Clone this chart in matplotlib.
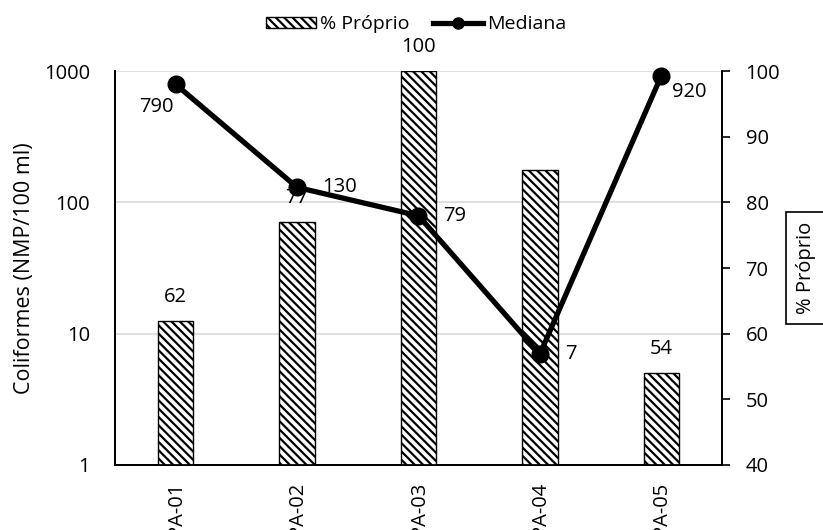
import matplotlib
matplotlib.use('Agg')
from matplotlib import pyplot as plt
from matplotlib.lines import Line2D
from matplotlib.patches import Patch

plt.rcParams['font.family'] = ['Open Sans', 'DejaVu Sans']
plt.rcParams['hatch.linewidth'] = 1.6
plt.rcParams['hatch.color'] = '#3a3a3a'

my_fontsize = 14.5
HATCH = '\\\\\\\\'

# sampling points
labels = ['PA-01', 'PA-02', 'PA-03', 'PA-04', 'PA-05']
# median coliforms (NMP/100 ml), log axis on the left
mediana = [790, 130, 79, 7, 920]
# share "Próprio" (%), bars on the right axis
proprio = [62, 77, 100, 85, 54]
# which bars carry a value label
proprio_shown = [True, True, True, False, True]

x = list(range(len(labels)))

fig = plt.figure(figsize=(8.23, 5.30), dpi=100)
ax = fig.add_axes([115 / 823, 1 - 465 / 530, (722 - 115) / 823, (465 - 71) / 530])
ax2 = ax.twinx()

# left axis: log scale for coliforms
ax.set_yscale('log')
ax.set_ylim(1, 1000)
ax.set_xlim(-0.5, len(labels) - 0.5)
ax.set_yticks([1, 10, 100, 1000])
ax.set_yticklabels(['1', '10', '100', '1000'])
ax.minorticks_off()
ax.grid(axis='y', color='#d9d9d9', linewidth=1.2)
ax.set_axisbelow(True)
ax.tick_params(axis='y', length=0, pad=18, labelsize=my_fontsize)
ax.set_xticks(x)
ax.set_xticklabels(labels, rotation=90, va='top', ha='center')
ax.tick_params(axis='x', length=0, pad=12, labelsize=my_fontsize)

# right axis: percentage bars
ax2.set_ylim(40, 100)
ax2.set_yticks(range(40, 101, 10))
ax2.tick_params(axis='y', direction='out', length=6, width=1.2, pad=11, labelsize=my_fontsize)
ax2.bar(x, proprio, 0.29, color='white', edgecolor='black', linewidth=1.0,
        hatch=HATCH, zorder=2)

for spine_ax in (ax, ax2):
    spine_ax.spines['top'].set_visible(False)
    for s in ('left', 'right', 'bottom'):
        spine_ax.spines[s].set_linewidth(1.3)
        spine_ax.spines[s].set_color('black')

# median line drawn in the log coordinates, on top of the bars
ax2.plot(x, mediana, color='black', linewidth=3.8, marker='o', markersize=12,
         transform=ax.transData, zorder=3, clip_on=False)
ax2.set_ylim(40, 100)

# bar value labels
for xi, v, show in zip(x, proprio, proprio_shown):
    if show:
        ax2.annotate(str(v), (xi, v), xytext=(0, 17), textcoords='offset points',
                     ha='center', va='center', fontsize=my_fontsize, zorder=1)

# median value labels
label_offsets = [(-1.5, -16, 'right'), (18, 0, 'left'), (18, 0, 'left'),
                 (18, 0, 'left'), (20, -12, 'center')]
for xi, v, (dx, dy, ha) in zip(x, mediana, label_offsets):
    ax2.annotate(str(v), (xi, v), xycoords=ax.transData, xytext=(dx, dy),
                 textcoords='offset points', ha=ha, va='center',
                 fontsize=my_fontsize, zorder=4)

fig.text(25 / 823, 1 - 268 / 530, 'Coliformes (NMP/100 ml)', rotation=90,
         ha='center', va='center', fontsize=15.5)
fig.text(806 / 823, 1 - 268 / 530, '% Próprio', rotation=90, ha='center',
         va='center', fontsize=my_fontsize,
         bbox=dict(boxstyle='square,pad=0.5', facecolor='white', edgecolor='black', linewidth=1.2))

handles = [Patch(facecolor='white', edgecolor='black', hatch=HATCH, linewidth=1.0),
           Line2D([0], [0], color='black', linewidth=3.8, marker='o', markersize=8)]
fig.legend(handles, ['% Próprio', 'Mediana'], loc='center', bbox_to_anchor=(416 / 823, 1 - 24 / 530),
           ncol=2, frameon=False, fontsize=14, handlelength=2.6, handleheight=0.5,
           handletextpad=0.2, columnspacing=1.2)

plt.savefig('out.png', dpi=100)
